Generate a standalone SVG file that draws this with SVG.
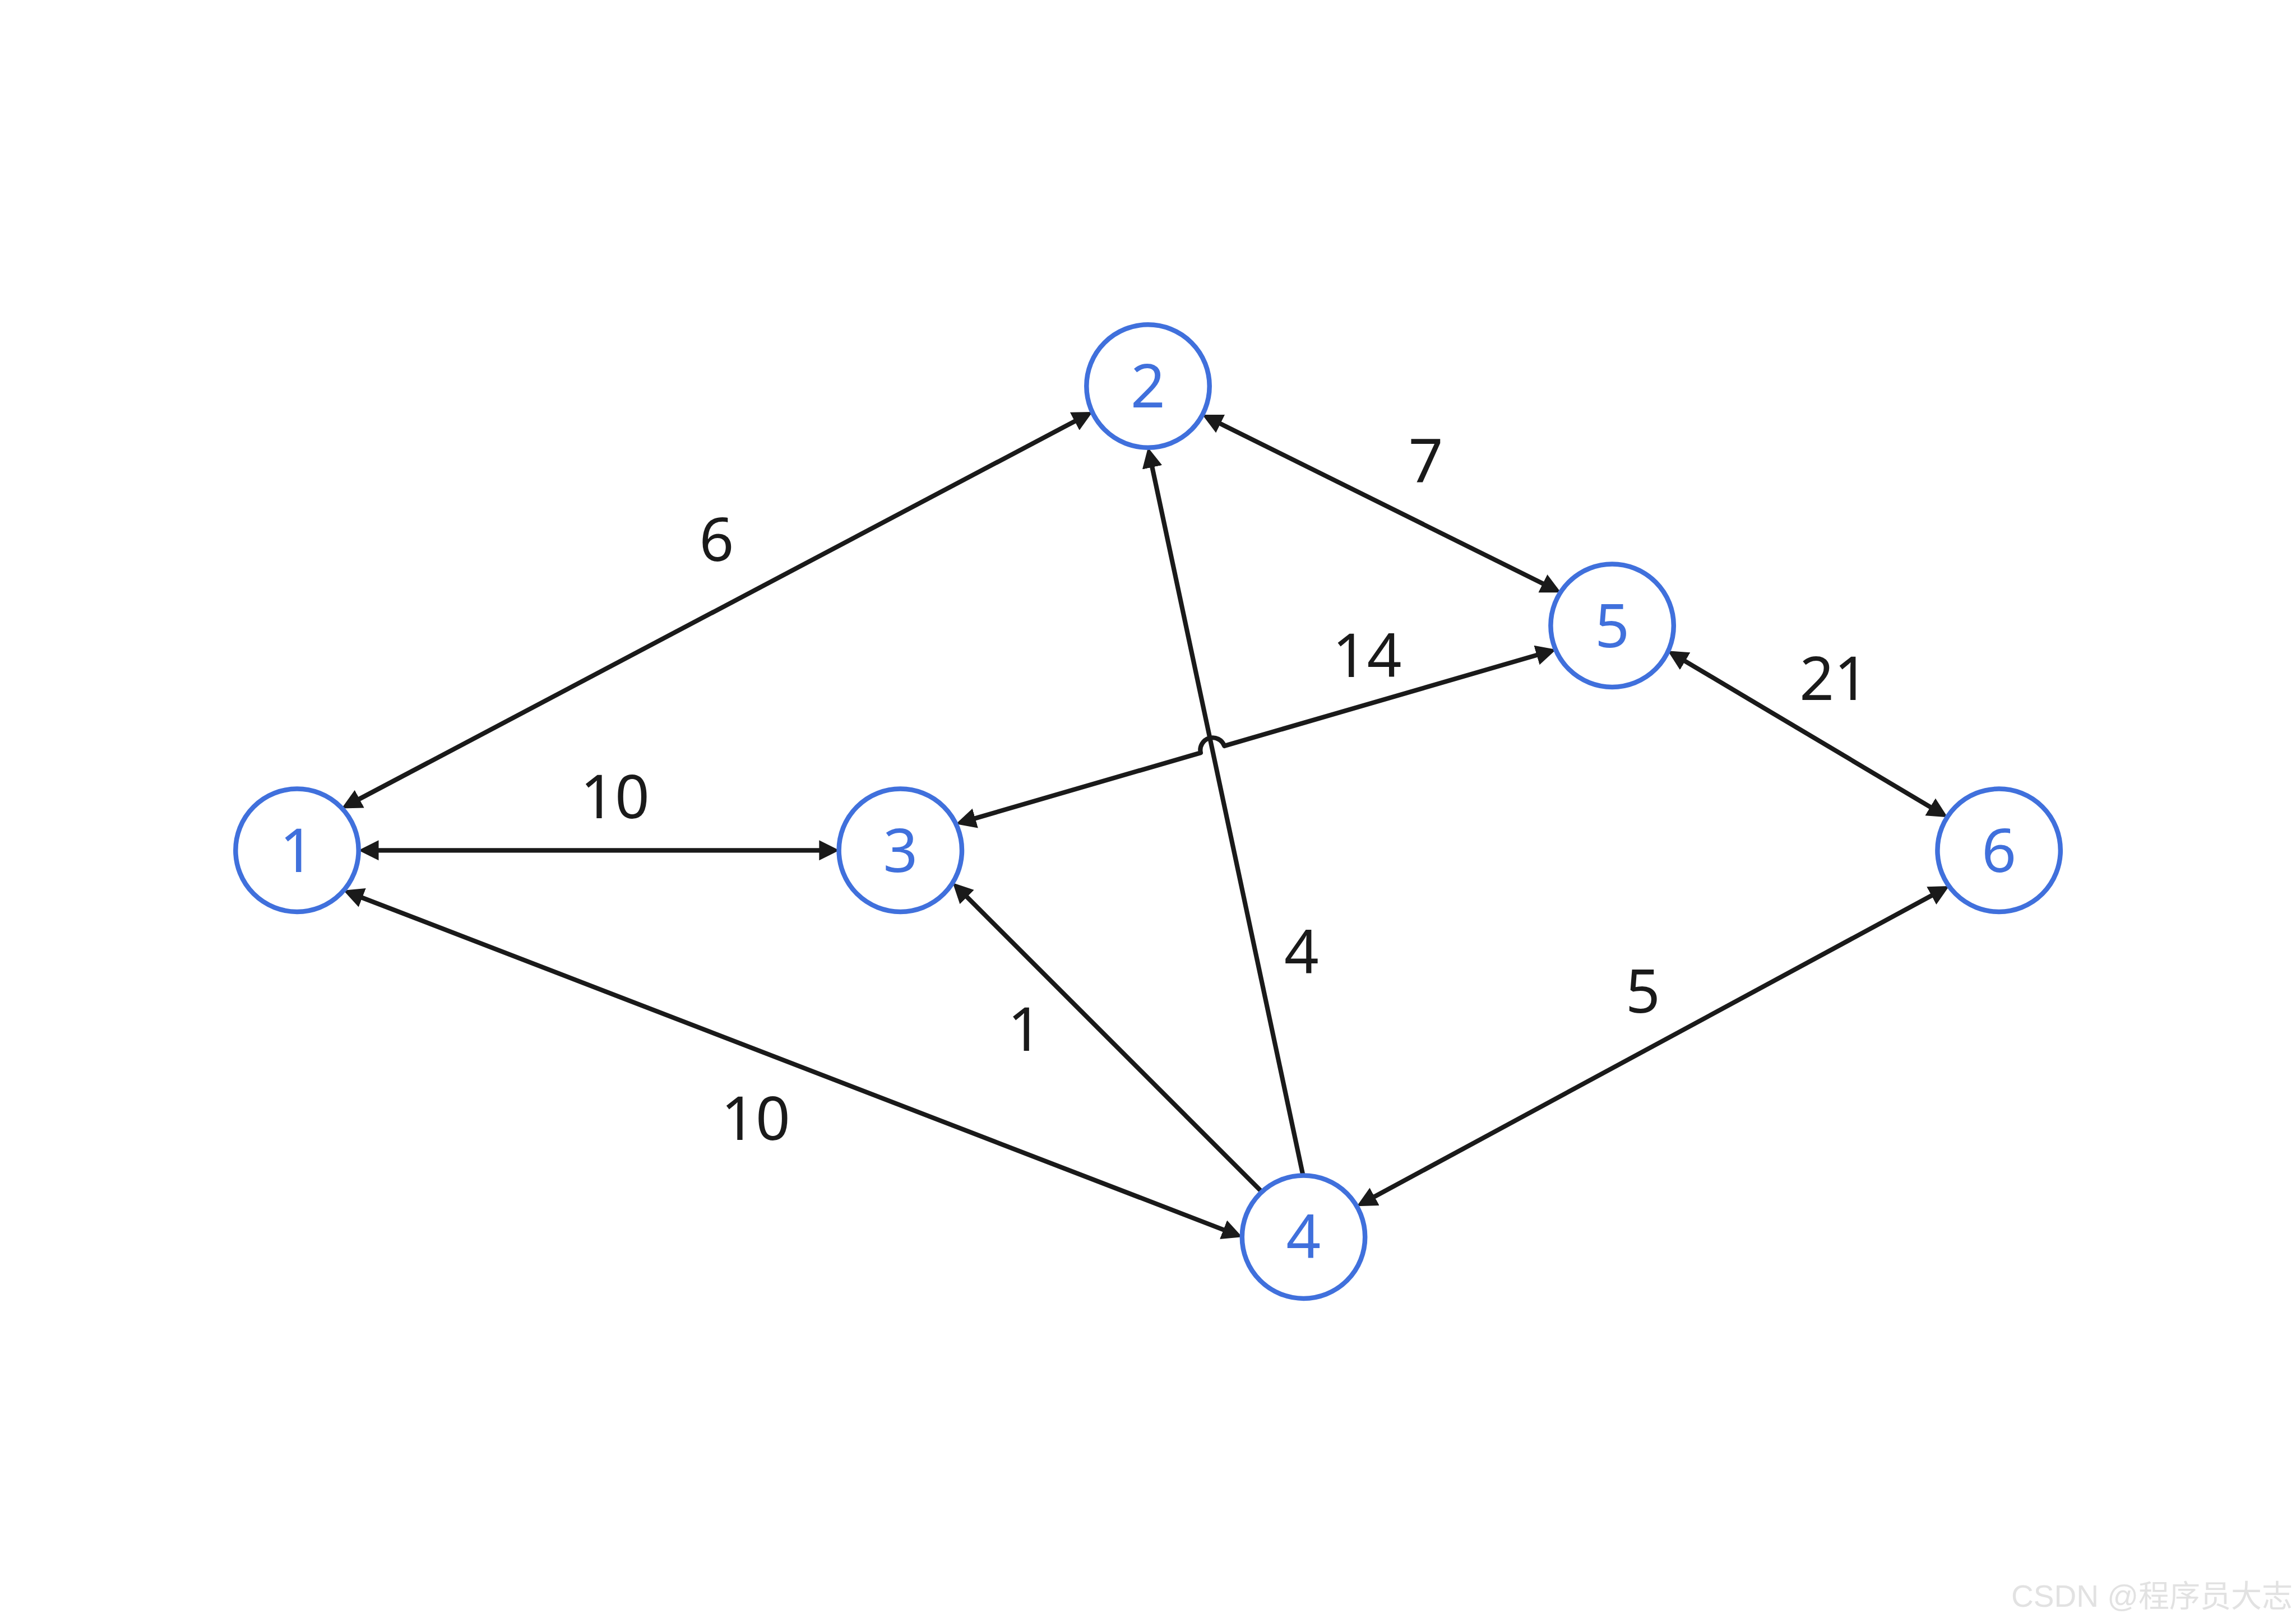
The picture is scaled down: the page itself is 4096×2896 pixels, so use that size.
<svg xmlns="http://www.w3.org/2000/svg" width="4096" height="2896" viewBox="0 0 4096 2896">
<style>
.node circle{fill:#ffffff;stroke:#4070dc;stroke-width:8.5}
.node text{fill:#4070dc;font-family:"Noto Sans","Open Sans","DejaVu Sans",sans-serif;font-size:108px;text-anchor:middle}
.edge{fill:none;stroke:#1a1a1a;stroke-width:8.2;stroke-linejoin:round}
.lbl{fill:#1a1a1a;font-family:"Noto Sans","Open Sans","DejaVu Sans",sans-serif;font-size:108px;text-anchor:middle}
.wm{fill:#e2e2e2;font-family:"Liberation Sans","Noto Sans CJK SC",sans-serif;font-size:55px;text-anchor:end}
</style>
<defs>
<marker id="arr" markerUnits="userSpaceOnUse" markerWidth="40" markerHeight="40" viewBox="0 -20 40 40" refX="2" refY="0" orient="auto-start-reverse">
<path d="M0,-18 L36,0 L0,18 z" fill="#1a1a1a"/>
</marker>
</defs>
<rect width="4096" height="2896" fill="#ffffff"/>
<g id="connectors">
<path id="e1-2" class="edge" d="M639.5,1426.5 L1919.0,750.8" marker-start="url(#arr)" marker-end="url(#arr)"/>
<path id="e1-3" class="edge" d="M673.5,1517.3 L1463.3,1517.3" marker-start="url(#arr)" marker-end="url(#arr)"/>
<path id="e1-4" class="edge" d="M644.4,1601.1 L2184.4,2195.0" marker-start="url(#arr)" marker-end="url(#arr)"/>
<path id="e2-5" class="edge" d="M2175.4,755.2 L2754.1,1042.1" marker-start="url(#arr)" marker-end="url(#arr)"/>
<path id="e4-2" class="edge" d="M2324.3,2096.1 L2055.1,831.8" marker-end="url(#arr)"/>
<path id="e4-3" class="edge" d="M2250.8,2126.4 L1723.7,1599.2" marker-end="url(#arr)"/>
<path id="e3-5" class="edge" d="M1737.9,1460.7 L2141.9,1343.2 A22,22 0 0 1 2184.1,1331.0 L2743.4,1168.4" marker-start="url(#arr)" marker-end="url(#arr)"/>
<path id="e5-6" class="edge" d="M3004.5,1178.7 L3445.3,1440.9" marker-start="url(#arr)" marker-end="url(#arr)"/>
<path id="e4-6" class="edge" d="M2450.4,2136.2 L3447.5,1597.2" marker-start="url(#arr)" marker-end="url(#arr)"/>
<text class="lbl" x="1278.5" y="1000.8">6</text>
<text class="lbl" x="2543.7" y="860.7">7</text>
<text class="lbl" x="2438.7" y="1207.6">14</text>
<text class="lbl" x="3272" y="1248.8">21</text>
<text class="lbl" x="1097" y="1459.7">10</text>
<text class="lbl" x="2322" y="1736.6">4</text>
<text class="lbl" x="1828.5" y="1875">1</text>
<text class="lbl" x="1348" y="2034.4">10</text>
<text class="lbl" x="2931" y="1807">5</text>
</g>
<g id="n1" class="node"><circle cx="530.0" cy="1517.3" r="109.7"/><text x="530.0" y="1555.5">1</text></g>
<g id="n2" class="node"><circle cx="2048.0" cy="689.0" r="109.7"/><text x="2048.0" y="727.2">2</text></g>
<g id="n3" class="node"><circle cx="1606.3" cy="1517.3" r="109.7"/><text x="1606.3" y="1555.5">3</text></g>
<g id="n4" class="node"><circle cx="2325.5" cy="2207.2" r="109.7"/><text x="2325.5" y="2245.4">4</text></g>
<g id="n5" class="node"><circle cx="2876.1" cy="1116.3" r="109.7"/><text x="2876.1" y="1154.5">5</text></g>
<g id="n6" class="node"><circle cx="3566.1" cy="1517.3" r="109.7"/><text x="3566.1" y="1555.5">6</text></g>
<text class="wm" x="4090" y="2867">CSDN @程序员大志</text>
</svg>
